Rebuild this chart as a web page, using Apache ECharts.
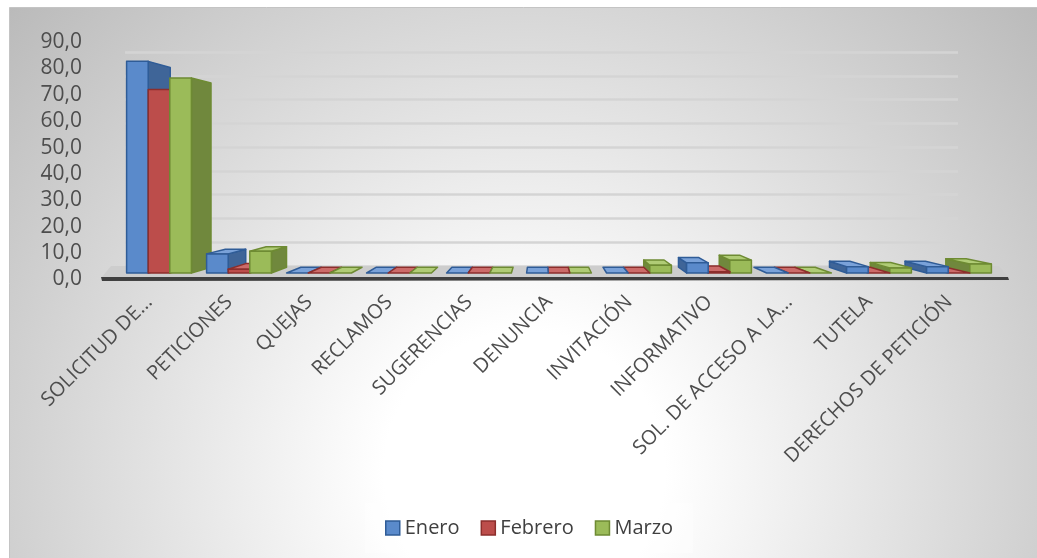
<!DOCTYPE html>
<html>
<head>
<meta charset="utf-8">
<script src="https://cdn.jsdelivr.net/npm/echarts@6/dist/echarts.min.js"></script>
<style>
  html, body { margin: 0; padding: 0; background: #ffffff; }
  #chart { width: 1037px; height: 558px; }
</style>
</head>
<body>
<div id="chart"></div>
<script>
// Categories and monthly values
const categories = ['SOLICITUD DE...', 'PETICIONES', 'QUEJAS', 'RECLAMOS', 'SUGERENCIAS', 'DENUNCIA',
  'INVITACIÓN', 'INFORMATIVO', 'SOL. DE ACCESO A LA...', 'TUTELA', 'DERECHOS DE PETICIÓN'];
const seriesNames = ['Enero', 'Febrero', 'Marzo'];
const enero   = [83, 7.5, 0, 0, 0, 0, 0, 4, 0, 2.5, 2.5];
const febrero = [72, 1.5, 0, 0, 0, 0, 0, 0.5, 0, 0, 0];
const marzo   = [76.5, 8.5, 0, 0, 0, 0, 3, 5, 0, 2, 3.5];
const valueMin = 0, valueMax = 90, valueStep = 10;

const FONT = '"Open Sans", "DejaVu Sans", sans-serif';
const LABEL_COLOR = '#4d4d4d';

// Face colours for each month: front, side, top, edge
const faces = [
  { front: '#5A8ACB', side: '#3F6598', top: '#7AA2D9', edge: '#2F5C97' },
  { front: '#BC4D4B', side: '#8E3634', top: '#CC6B69', edge: '#8C2E2C' },
  { front: '#9BBB59', side: '#70883D', top: '#B0CC76', edge: '#6E8B33' }
];

// Perspective of the box bars: points recede toward a vanishing point
const DEPTH = 0.056;
function vanish(cs) {
  return [cs.x + cs.width * 0.48, cs.y + cs.height * 0.55];
}
function recede(p, vp, k) {
  return [p[0] + k * (vp[0] - p[0]), p[1] + k * (vp[1] - p[1])];
}

function boxRenderer(idx) {
  const f = faces[idx];
  return function (params, api) {
    const cs = params.coordSys;
    const vp = vanish(cs);
    const cat = api.value(0);
    const val = api.value(1);
    const band = api.size([1, 0])[0];
    const barW = band * 0.27;
    const base = api.coord([cat, 0]);
    const top = api.coord([cat, val]);
    const x0 = base[0] + (idx - 1) * barW - barW / 2;
    const x1 = x0 + barW;
    const yb = base[1];
    const yt = Math.min(top[1], yb);
    const FBL = [x0, yb], FBR = [x1, yb], FTL = [x0, yt], FTR = [x1, yt];
    const BBL = recede(FBL, vp, DEPTH), BBR = recede(FBR, vp, DEPTH);
    const BTL = recede(FTL, vp, DEPTH), BTR = recede(FTR, vp, DEPTH);
    const cx = (x0 + x1) / 2;
    const order = -Math.abs(cx - vp[0]) / 10;
    const children = [];
    const edge = { stroke: f.edge, lineWidth: 1.5, lineJoin: 'round' };
    if (yb - yt > 0.5) {
      const side = cx < vp[0] ? [FTR, BTR, BBR, FBR] : [FTL, BTL, BBL, FBL];
      children.push({ type: 'polygon', z2: order, shape: { points: side },
        style: Object.assign({ fill: f.side }, edge) });
    }
    if (yt > vp[1]) {
      children.push({ type: 'polygon', z2: order + 0.01, shape: { points: [FTL, FTR, BTR, BTL] },
        style: Object.assign({ fill: f.top }, edge) });
    }
    if (yb - yt > 0.5) {
      children.push({ type: 'rect', z2: order + 0.02,
        shape: { x: x0, y: yt, width: barW, height: yb - yt },
        style: Object.assign({ fill: f.front }, edge) });
    }
    return { type: 'group', children: children };
  };
}

// Floor slab under the bars
function floorRenderer(params) {
  const cs = params.coordSys;
  const yb = cs.y + cs.height;
  const xl = cs.x - 17, xr = cs.x + cs.width + 9;
  return {
    type: 'group',
    children: [
      { type: 'polygon', z2: -500, shape: { points: [[xl, yb + 4], [xr, yb + 4], [xr - 9, yb - 7], [xl + 9, yb - 7]] },
        style: { fill: '#CDCDCD' } },
      { type: 'polygon', z2: -499, shape: { points: [[xl - 1, yb + 4], [xr, yb + 4], [xr + 1, yb + 7], [xl, yb + 8]] },
        style: { fill: '#3F3F3F' } }
    ]
  };
}

const monthData = [enero, febrero, marzo];
const chart = echarts.init(document.getElementById('chart'), null, { renderer: 'canvas' });

const option = {
  animation: false,
  backgroundColor: '#ffffff',
  textStyle: { fontFamily: FONT },
  graphic: [{
    type: 'rect', z: -10, silent: true,
    shape: { x: 9.5, y: 7.5, width: 1030, height: 552 },
    style: {
      fill: new echarts.graphic.RadialGradient(0.5, 0.84, 1.27, [
        { offset: 0, color: '#ffffff' },
        { offset: 0.2, color: '#ffffff' },
        { offset: 1, color: '#b9b9b9' }
      ]),
      stroke: '#c4c4c4', lineWidth: 1
    }
  }],
  grid: [
    // back wall with gridlines
    { left: 125, right: 79, top: 52, bottom: 292, outerBoundsMode: 'none', containLabel: false },
    // front value scale
    { left: 90, right: 79, top: 42, bottom: 278.5, outerBoundsMode: 'none', containLabel: false },
    // bar plane
    { left: 119, right: 38, top: 43.5, bottom: 285, outerBoundsMode: 'none', containLabel: false }
  ],
  xAxis: [
    { gridIndex: 0, type: 'category', data: categories, show: false },
    { gridIndex: 1, type: 'category', data: categories, show: false },
    {
      gridIndex: 2, type: 'category', data: categories,
      axisLine: { show: false }, axisTick: { show: false },
      axisLabel: {
        interval: 0, rotate: 45, fontSize: 20, color: LABEL_COLOR, fontFamily: FONT,
        margin: 16, padding: [0, 14, 0, 0]
      }
    }
  ],
  yAxis: [
    {
      gridIndex: 0, type: 'value', min: valueMin, max: valueMax, interval: valueStep,
      axisLine: { show: false }, axisTick: { show: false }, axisLabel: { show: false },
      splitLine: { show: true, lineStyle: { color: '#d4d4d4', width: 2.5 } }
    },
    {
      gridIndex: 1, type: 'value', min: valueMin, max: valueMax, interval: valueStep,
      axisLine: { show: false }, axisTick: { show: false }, splitLine: { show: false },
      axisLabel: {
        fontSize: 21, color: LABEL_COLOR, fontFamily: FONT, margin: 8,
        formatter: v => v.toFixed(1).replace('.', ',')
      }
    },
    {
      gridIndex: 2, type: 'value', min: valueMin, max: valueMax, interval: valueStep,
      show: false, splitLine: { show: false }
    }
  ],
  legend: {
    left: 365, top: 503, padding: [15, 20, 15, 20],
    backgroundColor: 'rgba(255,255,255,0.35)',
    itemWidth: 14, itemHeight: 14, itemGap: 21, icon: 'rect',
    textStyle: { fontSize: 20, color: '#404040', fontFamily: FONT },
    data: seriesNames.map((n, i) => ({
      name: n, itemStyle: { color: faces[i].front, borderColor: faces[i].edge, borderWidth: 1.5 }
    }))
  },
  series: [
    {
      type: 'custom', name: 'floor', xAxisIndex: 2, yAxisIndex: 2, z: 1, silent: true,
      renderItem: floorRenderer, data: [[0, 0]]
    }
  ].concat(seriesNames.map((name, i) => ({
    type: 'custom', name: name, xAxisIndex: 2, yAxisIndex: 2, z: 2, silent: true,
    itemStyle: { color: faces[i].front, borderColor: faces[i].edge, borderWidth: 1.5 },
    encode: { x: 0, y: 1 },
    renderItem: boxRenderer(i),
    data: monthData[i].map((v, j) => [j, v])
  })))
};

chart.setOption(option);
</script>
</body>
</html>
